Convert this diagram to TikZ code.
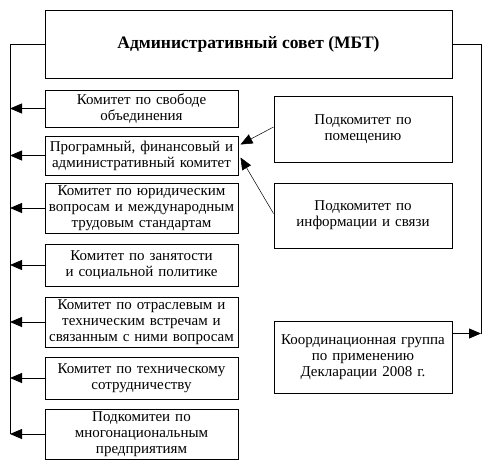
\documentclass[tikz,border=0pt]{standalone}
\usepackage{fontspec}
\setmainfont{Liberation Serif}
\usetikzlibrary{arrows.meta,calc}
\begin{document}
\begin{tikzpicture}[x=1pt,y=-1pt,
  box/.style={draw,line width=1pt,inner sep=0pt,align=center,font=\fontsize{15}{15.8}\selectfont},
  lbox/.style={box,minimum width=193pt,text width=192pt},
  rbox/.style={box,minimum width=178pt,text width=177pt},
  conn/.style={line width=0.8pt,-{Triangle[length=12pt,width=10pt]}},
  thinconn/.style={line width=0.5pt,-{Triangle[length=12pt,width=10pt]}}]
\useasboundingbox (0,0) rectangle (500,474);
\node[box,minimum width=407pt,minimum height=68pt,font=\fontsize{17.5}{20}\selectfont\bfseries] (top) at (248.5,44) {Административный совет (МБТ)};
\node[lbox,minimum height=37pt] (b1) at (141.5,108.5) {Комитет по свободе\\объединения};
\node[lbox,minimum height=39pt] (b2) at (141.5,155.5) {Програмный, финансовый и\\административный комитет};
\node[lbox,minimum height=50pt] (b3) at (141.5,208) {Комитет по юридическим\\вопросам и международным\\трудовым стандартам};
\node[lbox,minimum height=42pt] (b4) at (141.5,265) {Комитет по занятости\\и социальной политике};
\node[lbox,minimum height=50pt] (b5) at (141.5,322) {Комитет по отраслевым и\\техническим встречам и\\связанным с ними вопросам};
\node[lbox,minimum height=42pt] (b6) at (141.5,378) {Комитет по техническому\\сотрудничеству};
\node[lbox,minimum height=50pt] (b7) at (141.5,434) {Подкомитеи по\\многонациональным\\предприятиям};
\node[rbox,minimum height=66pt] (r1) at (363,129) {Подкомитет по\\помещению};
\node[rbox,minimum height=65pt] (r2) at (363,215.5) {Подкомитет по\\информации и связи};
\node[rbox,minimum height=72pt] (r3) at (363,357) {Координационная группа\\по применению\\Декларации 2008 г.};
\coordinate (lt) at (10,44);
\coordinate (lb) at (10,434);
\coordinate (rt) at (481,44);
\coordinate (rb) at (481,334);
\draw[line width=0.8pt] (top.west) -- (lt) -- (lb);
\draw[line width=0.8pt] (top.east) -- (rt) -- (rb);
\foreach \b in {b1,b2,b3,b4,b5,b6,b7}
  \draw[conn] (\b.west) -- (\b.west -| lt);
\coordinate (r3a) at ($(r3.north east)+(0,13)$);
\draw[conn] (r3a) -- (r3a -| rt);
\coordinate (r1s) at ($(r1.west)+(0,-2)$);
\coordinate (b2a) at ($(b2.north east)+(2,9)$);
\coordinate (r2s) at ($(r2.west)+(0,-2)$);
\coordinate (b2b) at ($(b2.north east)+(2,22)$);
\draw[thinconn] (r1s) -- (b2a);
\draw[thinconn] (r2s) -- (b2b);
\end{tikzpicture}
\end{document}
